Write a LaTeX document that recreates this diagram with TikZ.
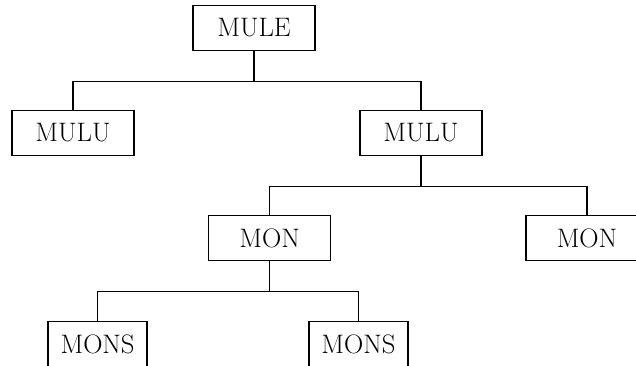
\documentclass[tikz,border=0pt]{standalone}
\usepackage{tikz}
\usetikzlibrary{positioning}

\tikzset{
  wordbox/.style={draw, line width=1.2pt, minimum width=3.05cm, minimum height=1.125cm,
    inner sep=0pt, font=\fontsize{19}{22}\selectfont},
  smallbox/.style={wordbox, minimum width=2.475cm},
  branch/.style={line width=1.2pt}
}

\begin{document}
\begin{tikzpicture}
  \useasboundingbox (0,0) rectangle (15.9,-9.15);
  \clip (0,0) rectangle (15.9,-9.15);

  % the tree
  \node [wordbox] (mule) at (6.35,-0.7) {MULE};
  \node [wordbox] (mulua) at (1.825,-3.325) {MULU};
  \node [wordbox] (mulub) at (10.525,-3.325) {MULU};
  \node [wordbox] (mona) at (6.74,-5.95) {MON};
  \node [wordbox] (monb) at (14.675,-5.95) {MON};
  \node [smallbox] (monsa) at (2.44,-8.6) {MONS};
  \node [smallbox] (monsb) at (8.96,-8.6) {MONS};

  % branches
  \foreach \parent / \child in {mule/mulua, mule/mulub, mulub/mona, mulub/monb, mona/monsa, mona/monsb}
  {
    \draw [branch] (\parent.south) -- ++(0,-0.75) -| (\child.north);
  }

\end{tikzpicture}
\end{document}
